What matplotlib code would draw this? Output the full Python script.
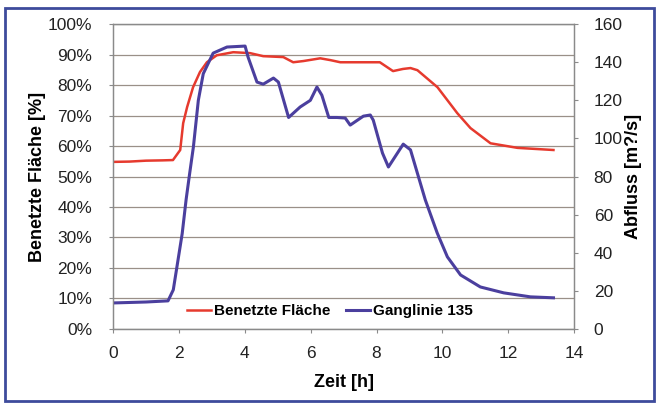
import matplotlib
matplotlib.use('Agg')
import matplotlib.pyplot as plt
from matplotlib.patches import Rectangle
from matplotlib.ticker import PercentFormatter

# Benetzte Fläche [%] (linke Achse)
t_flaeche = [0.0, 0.5, 1.0, 1.5, 1.82, 2.04, 2.13, 2.25, 2.43, 2.64, 2.85, 3.15,
             3.65, 4.16, 4.56, 5.17, 5.47, 5.78, 6.29, 6.6, 6.9, 7.42, 8.1, 8.5,
             8.8, 9.03, 9.24, 9.85, 10.45, 10.85, 11.46, 12.28, 13.37]
flaeche = [54.8, 54.9, 55.2, 55.3, 55.4, 58.7, 67.5, 72.8, 79.3, 84.3, 87.5, 89.8,
           90.8, 90.5, 89.5, 89.2, 87.5, 87.9, 88.8, 88.2, 87.5, 87.5, 87.5, 84.6,
           85.3, 85.6, 84.9, 79.3, 70.8, 65.9, 60.9, 59.4, 58.7]

# Ganglinie 135 [m?/s] (rechte Achse)
t_abfluss = [0.0, 1.0, 1.67, 1.83, 1.94, 2.1, 2.22, 2.33, 2.44, 2.59, 2.74, 3.04,
             3.46, 4.01, 4.1, 4.37, 4.56, 4.87, 5.02, 5.33, 5.68, 5.99, 6.19, 6.34,
             6.55, 6.8, 7.05, 7.2, 7.6, 7.81, 7.9, 8.18, 8.36, 8.81, 9.03, 9.48,
             9.84, 10.15, 10.55, 11.15, 11.86, 12.67, 13.37]
abfluss = [13.6, 14.1, 14.7, 20.5, 32.5, 50.0, 68.0, 82.0, 95.5, 120.0, 134.0, 144.8,
           148.0, 148.5, 142.7, 129.6, 128.5, 131.7, 129.6, 111.0, 116.5, 120.0, 127.0, 122.7,
           111.0, 111.0, 110.7, 107.0, 111.7, 112.3, 109.6, 92.3, 85.0, 97.0, 94.0, 67.7,
           50.4, 37.8, 28.3, 22.0, 18.9, 16.8, 16.3]

x_ticks = [0, 2, 4, 6, 8, 10, 12, 14]

plt.rcParams['font.family'] = ['Liberation Sans', 'DejaVu Sans']
plt.rcParams['font.size'] = 12

fig = plt.figure(figsize=(6.57, 4.03), dpi=100)
fig.patches.append(Rectangle((0.008, 0.006), 0.988, 0.975, transform=fig.transFigure,
                             fill=False, edgecolor='#3d4b9c', linewidth=2))

ax = fig.add_axes([0.172, 0.184, 0.702, 0.756])
ax2 = ax.twinx()

l1, = ax.plot(t_flaeche, flaeche, color='#e63a2e', linewidth=1.8, label='Benetzte Fläche')
l2, = ax2.plot(t_abfluss, abfluss, color='#4b3f9e', linewidth=2.2, label='Ganglinie 135')

ax.set_xlim(0, 14)
ax.set_xticks(x_ticks)
ax.set_ylim(0, 100)
ax.set_yticks(range(0, 101, 10))
ax.yaxis.set_major_formatter(PercentFormatter(decimals=0))
ax2.set_ylim(0, 160)
ax2.set_yticks(range(0, 161, 20))

ax.grid(axis='y', color='#9a9088', linewidth=0.9)
ax.set_axisbelow(True)
for a in (ax, ax2):
    for sp in a.spines.values():
        sp.set_color('#8a8a8a')
        sp.set_linewidth(0.9)
    a.tick_params(colors='#8a8a8a', labelcolor='#222222', labelsize=12.5, length=3)

ax.set_xlabel('Zeit [h]', fontweight='bold', fontsize=13, labelpad=10)
ax.set_ylabel('Benetzte Fläche [%]', fontweight='bold', fontsize=13, labelpad=1)
ax2.set_ylabel('Abfluss [m?/s]', fontweight='bold', fontsize=13, labelpad=2)
ax.tick_params(axis='x', pad=9)
ax.tick_params(axis='y', pad=12)
ax2.tick_params(axis='y', pad=11)

leg = ax2.legend([l1, l2], ['Benetzte Fläche', 'Ganglinie 135'], loc='lower center',
                 bbox_to_anchor=(0.47, -0.01), ncol=2, frameon=False,
                 prop={'weight': 'bold', 'size': 11}, handlelength=1.6,
                 handletextpad=0.2, columnspacing=1.0)

fig.savefig('out.png', dpi=100)
